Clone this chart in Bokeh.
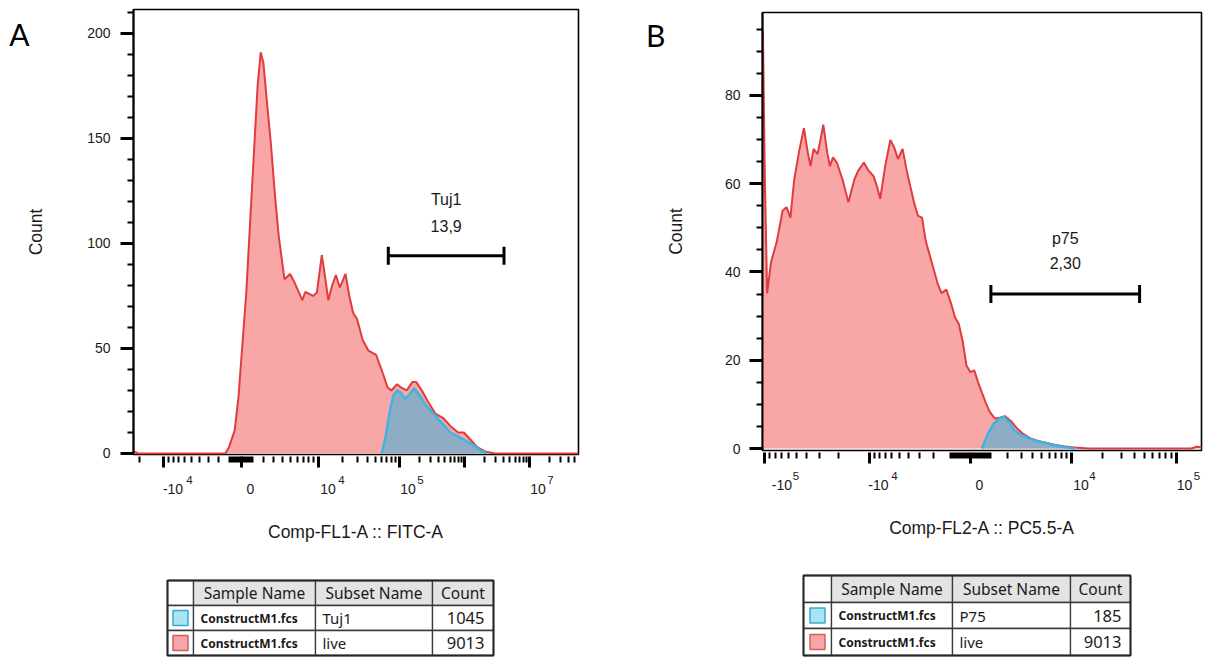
import math
from bokeh.plotting import figure
from bokeh.models import Range1d, LinearAxis, FixedTicker, Label
from bokeh.layouts import row, column
from bokeh.embed import file_html
from bokeh.resources import INLINE
from bokeh.core.properties import value

# ---------------- data: panel A (Comp-FL1-A :: FITC-A), display channel ----------------
a_live_channel = [0, 5, 91.7, 95.5, 101.2, 105.0, 108.9, 112.7, 116.5, 120.3, 124.1, 127.2,
                  129.9, 133.7, 137.5, 141.3, 145.1, 149.0, 150.9, 156.6, 160.4, 164.2, 168.8,
                  171.9, 175.7, 179.5, 183.3, 188.3, 191.0, 194.8, 198.6, 202.4, 206.3, 212.0,
                  215.8, 219.6, 223.5, 229.2, 234.9, 242.6, 246.4, 250.2, 254.0, 257.8, 263.6,
                  267.4, 273.1, 278.8, 282.7, 288.4, 294.1, 301.8, 309.4, 317.0, 324.7, 330.4,
                  336.1, 343.8, 351.4, 361.0, 445]
a_live_count = [1, 0, 0, 3, 11, 27, 52, 76, 109, 142, 175, 191,
                186, 166, 147, 124, 104, 90, 83, 85.5, 82, 78, 73,
                77, 76, 75, 76.5, 94.5, 86, 73, 80, 85, 79, 85.5,
                75, 67, 64, 54, 49, 47, 42, 37, 31.5, 30, 33,
                31.5, 30, 34, 34, 30, 25, 19, 17, 13, 10, 10,
                7, 3, 1, 0, 0]
a_tuj1_channel = [248.3, 252.1, 255.9, 259.7, 263.6, 267.4, 271.2, 275.0, 280.7, 286.5,
                  292.2, 297.9, 303.7, 309.4, 317.0, 324.7, 332.3, 340.0, 347.6, 353.3]
a_tuj1_count = [0, 8, 19, 27.5, 30, 29, 26, 27.5, 31, 27.5,
                23, 20, 17, 14, 10, 8, 6, 4, 1.3, 0]
a_gate = [254.8, 370.5]
a_gate_level = 94.2
a_gate_name = "Tuj1"
a_gate_pct = "13,9"
a_gate_text_y = [121.0, 108.4]
a_xmajor_values = [-1e4, 0, 1e4, 1e5, 1e6, 1e7]
a_xlabel_values = [-1e4, 0, 1e4, 1e5, 1e7]
a_xlabel_base = ["-10", "0", "10", "10", "10"]
a_xlabel_exp = ["4", "", "4", "5", "7"]
a_yticks = [0, 50, 100, 150, 200]
a_yminor = [10, 20, 30, 40, 60, 70, 80, 90, 110, 120, 130, 140, 160, 170, 180, 190, 210]

# ---------------- data: panel B (Comp-FL2-A :: PC5.5-A) ----------------
b_live_channel = [0.4, 2.3, 4.6, 8.5, 14.3, 20.1, 24.0, 27.9, 31.7, 36.4, 41.4, 45.3, 48.0,
                  51.1, 55.0, 56.9, 60.8, 64.7, 67.4, 70.5, 74.3, 80.1, 85.9, 91.8, 95.6,
                  101.4, 105.3, 111.1, 115.0, 117.7, 122.7, 127.8, 131.6, 135.5, 140.1, 144.0,
                  147.9, 151.8, 155.6, 159.5, 163.4, 169.2, 175.0, 178.9, 183.9, 188.5, 192.4,
                  196.3, 200.2, 204.0, 207.9, 211.8, 215.6, 219.5, 223.4, 227.3, 232.3, 236.9,
                  242.7, 248.5, 254.4, 260.2, 267.9, 275.6, 283.4, 293.1, 302.8, 312.4, 326.0,
                  428.6, 434.4, 439]
b_live_count = [94.8, 62, 35.2, 42.2, 46.9, 53.9, 54.7, 52.3, 60.9, 67.1, 72.6, 67.1, 64.0,
                67.9, 66.7, 68.7, 73.4, 67.1, 64.0, 66.0, 64.8, 60.9, 55.8, 60.9, 62.9,
                64.8, 63.2, 61.7, 59.0, 56.6, 64.0, 69.9, 68.3, 65.6, 67.9, 63.2,
                59.3, 55.5, 52.7, 52.3, 46.9, 42.2, 37.5, 35.2, 36.0, 32.9, 29.8,
                28.2, 24.3, 18.8, 17.3, 17.7, 15.0, 12.6, 10.3, 8.3, 6.8, 7.0,
                7.3, 6.2, 4.6, 3.4, 2.3, 1.7, 1.3, 0.8, 0.45, 0.25, 0,
                0, 0.4, 0.3]
b_p75_channel = [219.5, 225.3, 231.1, 236.9, 241.6, 246.6, 252.4, 260.2, 267.9, 275.6,
                 283.4, 293.1, 302.8, 312.4]
b_p75_count = [0, 3.3, 5.6, 6.8, 7.2, 6.0, 4.0, 2.9, 2.1, 1.6, 1.2, 0.7, 0.3, 0]
b_gate = [228.4, 377.1]
b_gate_level = 35.0
b_gate_name = "p75"
b_gate_pct = "2,30"
b_gate_text_y = [47.7, 42.1]
b_xmajor_values = [-1e5, -1e4, 0, 1e4, 1e5]
b_xlabel_values = [-1e5, -1e4, 0, 1e4, 1e5]
b_xlabel_base = ["-10", "-10", "0", "10", "10"]
b_xlabel_exp = ["5", "4", "", "4", "5"]
b_yticks = [0, 20, 40, 60, 80]
b_yminor = [5, 10, 15, 25, 30, 35, 45, 50, 55, 65, 70, 75, 85, 90, 95]

# ---------------- legend tables ----------------
table_header = ["Sample Name", "Subset Name", "Count"]
a_table_rows = [["ConstructM1.fcs", "Tuj1", "1045"], ["ConstructM1.fcs", "live", "9013"]]
b_table_rows = [["ConstructM1.fcs", "P75", "185"], ["ConstructM1.fcs", "live", "9013"]]

# ---------------- styling ----------------
FONT = "Liberation Sans"
TXT = "#1a1a1a"
RED_FILL, RED_LINE = "#f8a6a6", "#e03c3e"
BLUE_FILL, BLUE_LINE = "#8eadc4", "#3db4e2"
SW_CYAN, SW_CYAN_LINE = "#a9e4f4", "#38aacd"
SW_PINK, SW_PINK_LINE = "#f6a6a6", "#d25e5e"
PANEL_H = 560
TABLE_H = 105


# display scales (biexponential-like), in display channel units
def a_pos(v):
    zero, k, w = 107.5, 47.7, 4100.0
    if abs(v) <= 1e4:
        return zero + k * math.asinh(v / w)
    dec_pos = {4: 185.0, 5: 266.0, 6: 331.0, 7: 396.0, 8: 461.0}
    dec_neg = {4: 30.0, 5: -50.0, 6: -130.0}
    e = math.log10(abs(v))
    n = int(math.floor(e + 1e-12))
    f = e - n
    d = dec_pos if v > 0 else dec_neg
    return d[n] + (d[n + 1] - d[n]) * f


def b_pos(v):
    return 208.0 + 45.6 * math.asinh(v / 2207.0)


def minor_values(pos_full, pos_part, neg_full, neg_part):
    vals = []
    for n in pos_full:
        vals += [m * 10 ** n for m in range(1, 10)]
    for n in pos_part:
        vals += [m * 10 ** n for m in range(2, 10)]
    for n in neg_full:
        vals += [-m * 10 ** n for m in range(1, 10)]
    for n in neg_part:
        vals += [-m * 10 ** n for m in range(2, 10)]
    return vals


a_xminor = minor_values((2, 3), (4, 5, 6, 7), (2, 3), (4,))
b_xminor = minor_values((2, 3), (4, 5), (2, 3), (4,))


def label_axis(positions, texts, size, standoff, font=FONT, color=TXT, **kw):
    pos = [round(p, 3) for p, t in zip(positions, texts) if t]
    txt = [t for t in texts if t]
    return LinearAxis(ticker=FixedTicker(ticks=pos, minor_ticks=[]),
                      major_label_overrides={p: t for p, t in zip(pos, txt)},
                      axis_line_color=None, major_tick_line_color=None,
                      minor_tick_line_color=None, major_tick_out=0, major_tick_in=0,
                      minor_tick_out=0, minor_tick_in=0,
                      major_label_text_font=font, major_label_text_font_size=size,
                      major_label_text_color=color, major_label_standoff=standoff, **kw)


def make_panel(width, xr, yr, borders, pos_fn, xmajor, xminor, lab_vals, lab_base, lab_exp,
               base_nudge, exp_nudge, xlabel, yticks, yminor, ystand, ylab_stand,
               letter, letter_y, letter_stand):
    left, right, top, bottom = borders
    p = figure(width=width, height=PANEL_H, x_range=Range1d(*xr), y_range=Range1d(*yr),
               output_backend="svg", toolbar_location=None,
               x_axis_location=None, y_axis_location=None,
               min_border_left=left, min_border_right=right,
               min_border_top=top, min_border_bottom=bottom,
               outline_line_color="black", outline_line_width=1.6,
               background_fill_color="white", border_fill_color="white")
    p.grid.visible = False

    ya = LinearAxis(ticker=FixedTicker(ticks=yticks, minor_ticks=yminor),
                    axis_label="Count", axis_label_text_font=FONT,
                    axis_label_text_font_size="17.5px", axis_label_text_font_style="normal",
                    axis_label_text_color=TXT, axis_label_standoff=ylab_stand,
                    major_label_text_font=FONT, major_label_text_font_size="14px",
                    major_label_text_color=TXT, major_label_standoff=ystand,
                    major_tick_out=13, major_tick_in=0, minor_tick_out=6, minor_tick_in=0,
                    major_tick_line_width=3, minor_tick_line_width=2,
                    axis_line_width=2, axis_line_color="black")
    p.add_layout(ya, "left")
    # panel letter (A / B), set just left of the "Count" title
    p.add_layout(label_axis([letter_y], [letter], "30px", letter_stand, font="Lato",
                            color="black"), "left")

    xa = LinearAxis(ticker=FixedTicker(ticks=[pos_fn(v) for v in xmajor],
                                       minor_ticks=[pos_fn(v) for v in xminor]),
                    axis_line_color=None,
                    major_tick_out=13, major_tick_in=-2, minor_tick_out=8, minor_tick_in=-2,
                    major_tick_line_width=3, minor_tick_line_width=2,
                    major_label_text_font_size="1px", major_label_text_alpha=0,
                    major_label_standoff=0)
    p.add_layout(xa, "below")

    exp_axis = label_axis([pos_fn(v) + n for v, n in zip(lab_vals, exp_nudge)], lab_exp,
                          "11.5px", 8)
    p.add_layout(exp_axis, "below")
    base_axis = label_axis([pos_fn(v) + n for v, n in zip(lab_vals, base_nudge)], lab_base,
                           "14px", -3,
                           axis_label=xlabel, axis_label_text_font=FONT,
                           axis_label_text_font_size="17.5px",
                           axis_label_text_font_style="normal",
                           axis_label_text_color=TXT, axis_label_standoff=25)
    p.add_layout(base_axis, "below")
    return p


def add_hist(p, live_x, live_y, sub_x, sub_y):
    p.varea(x=live_x, y1=0, y2=live_y, fill_color=RED_FILL)
    p.line(live_x, live_y, line_color=RED_LINE, line_width=2)
    p.varea(x=sub_x, y1=0, y2=sub_y, fill_color=BLUE_FILL)
    p.line(sub_x, sub_y, line_color=BLUE_LINE, line_width=2.5)


def add_gate(p, gate, level, cap, name, pct, text_y):
    mid = (gate[0] + gate[1]) / 2
    p.segment(x0=[gate[0], gate[0], gate[1]], y0=[level, level - cap, level - cap],
              x1=[gate[1], gate[0], gate[1]], y1=[level, level + cap, level + cap],
              line_color="black", line_width=3)
    for t, ty in zip([name, pct], text_y):
        p.add_layout(Label(x=mid, y=ty, text=t, text_font=FONT, text_font_size="16px",
                           text_color=TXT, text_align="center", text_baseline="middle"))


# ---------------- panel A ----------------
pA = make_panel(600, (0, 445), (-0.48, 211.4), (133, 22, 9, 106), a_pos,
                a_xmajor_values, a_xminor, a_xlabel_values, a_xlabel_base, a_xlabel_exp,
                [9.5, 9.5, 9.5, 8.5, 8.5], [26, 0, 23, 21, 21],
                "Comp-FL1-A :: FITC-A", a_yticks, a_yminor, 10, 38, "A", 199.5, -6)
add_hist(pA, a_live_channel, a_live_count, a_tuj1_channel, a_tuj1_count)
add_gate(pA, a_gate, a_gate_level, 9 / 2.1, a_gate_name, a_gate_pct, a_gate_text_y)

# ---------------- panel B ----------------
pB = make_panel(607, (0, 439), (-0.45, 98.8), (162, 6, 12, 110), b_pos,
                b_xmajor_values, b_xminor, b_xlabel_values, b_xlabel_base, b_xlabel_exp,
                [17, 9, 9, 9.5, 8.5], [31, 25, 0, 21, 21],
                "Comp-FL2-A :: PC5.5-A", b_yticks, b_yminor, 9, 36, "B", 93.6, -3)
add_hist(pB, b_live_channel, b_live_count, b_p75_channel, b_p75_count)
add_gate(pB, b_gate, b_gate_level, 9 / 4.4125, b_gate_name, b_gate_pct, b_gate_text_y)


# ---------------- tables (drawn in page pixel coordinates) ----------------
def make_table(width, borders, xr, xe, ye, rows):
    left, right = borders
    t = figure(width=width, height=TABLE_H, x_range=Range1d(*xr),
               y_range=Range1d(PANEL_H + TABLE_H, PANEL_H),
               output_backend="svg", toolbar_location=None, x_axis_location=None,
               y_axis_location=None, min_border_left=left, min_border_right=right,
               min_border_top=0, min_border_bottom=0, outline_line_color=None,
               background_fill_color="white", border_fill_color="white")
    t.grid.visible = False
    grid_col = "#3a3a3a"
    t.quad(left=xe[0:4], right=xe[1:5], top=[ye[0]] * 4, bottom=[ye[1]] * 4,
           fill_color=["white", "#e3e3e3", "#e3e3e3", "#e3e3e3"], line_color=grid_col,
           line_width=1.3)
    for r in range(2):
        t.quad(left=xe[0:4], right=xe[1:5], top=[ye[r + 1]] * 4, bottom=[ye[r + 2]] * 4,
               fill_color="white", line_color=grid_col, line_width=1.3)
    t.quad(left=[xe[0]], right=[xe[4]], top=[ye[0]], bottom=[ye[3]], fill_color=None,
           line_color="#262626", line_width=2)
    cx = (xe[0] + xe[1]) / 2
    cys = [(ye[1] + ye[2]) / 2, (ye[2] + ye[3]) / 2]
    t.rect(x=[cx, cx], y=cys, width=15, height=15, fill_color=[SW_CYAN, SW_PINK],
           line_color=[SW_CYAN_LINE, SW_PINK_LINE], line_width=1.5)
    hy = (ye[0] + ye[1]) / 2
    t.text(x=[(xe[i] + xe[i + 1]) / 2 for i in (1, 2, 3)], y=[hy] * 3, text=table_header,
           text_font=value("Noto Sans"), text_font_size=value("15.5px"), text_color=TXT,
           text_align="center", text_baseline="middle")
    t.text(x=[xe[1] + 7] * 2, y=cys, text=[r[0] for r in rows],
           text_font=value("Noto Sans"), text_font_size=value("12px"), text_font_style="bold",
           text_color=TXT, text_align="left", text_baseline="middle")
    t.text(x=[xe[2] + 7] * 2, y=cys, text=[r[1] for r in rows],
           text_font=value("Noto Sans"), text_font_size=value("15px"), text_color=TXT,
           text_align="left", text_baseline="middle")
    t.text(x=[xe[4] - 9] * 2, y=cys, text=[r[2] for r in rows],
           text_font=value("Noto Sans"), text_font_size=value("16.5px"), text_color=TXT,
           text_align="right", text_baseline="middle")
    return t


tA = make_table(600, (133, 22), (133, 578), [167, 193, 315, 432, 493], [580, 605, 630, 655],
                a_table_rows)
tB = make_table(607, (162, 6), (762, 1201), [803, 831, 952, 1070, 1130], [575, 602, 628, 655],
                b_table_rows)

layout = row(column(pA, tA), column(pB, tB))
open("out.html", "w").write(file_html(layout, INLINE))
